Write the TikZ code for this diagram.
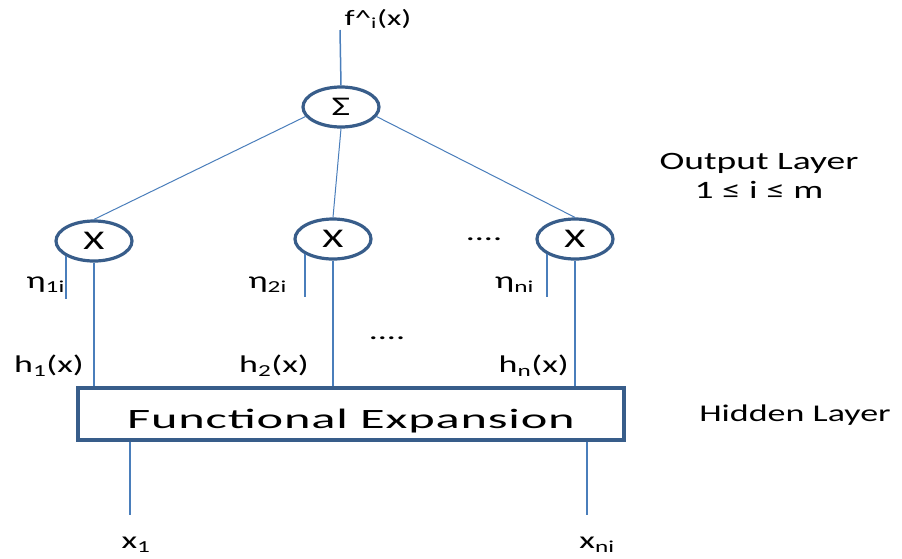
\documentclass[tikz,border=0pt]{standalone}
\usepackage{fontspec}
\setmainfont{Carlito}[FakeStretch=1.5]
\newfontfamily\widefont{Carlito}[FakeStretch=1.8, LetterSpace=3]
\usetikzlibrary{shapes.geometric}

\definecolor{rimblue}{RGB}{56,93,138}
\definecolor{wireblue}{RGB}{74,126,187}

\begin{document}
\begin{tikzpicture}[
    x=1pt, y=-1pt,
    unit node/.style={
        draw=rimblue, line width=3.2pt, ellipse, fill=white,
        minimum width=76pt, minimum height=40pt, inner sep=0pt,
        font=\fontsize{27}{30}\selectfont
    },
    expansion box/.style={
        draw=rimblue, line width=3.2pt, rectangle,
        minimum width=546pt, minimum height=52pt, inner sep=0pt,
        text height=28pt, text depth=0pt,
        font=\widefont\fontsize{28}{32}\selectfont
    },
    wire/.style={draw=wireblue, line width=1.5pt},
    link/.style={draw=wireblue, line width=1pt},
    lbl/.style={font=\fontsize{24}{28}\selectfont, inner sep=0pt},
    layer lbl/.style={font=\fontsize{25}{29}\selectfont, inner sep=0pt, align=center}
]

\useasboundingbox (0,0) rectangle (902,558);

% ------------------------------------------------------------------------------
% 1. NODOS
% ------------------------------------------------------------------------------
\node[unit node] (sum) at (341,107) {Σ};
\node[unit node] (prod1) at (94,241) {X};
\node[unit node] (prod2) at (333,239) {X};
\node[unit node] (prod3) at (575,239) {X};
\node[expansion box] (fe) at (351,414) {Functional Expansion};

% extremos libres
\coordinate (out) at (340,30);
\coordinate (in1) at (130,515);
\coordinate (inn) at (587,515);

% ------------------------------------------------------------------------------
% 2. CONEXIONES
% ------------------------------------------------------------------------------
\draw[wire] (sum.north) -- (out);
\draw[link] (sum.195) -- (prod1.north);
\draw[link] (sum.south) -- (prod2.north);
\draw[link] (sum.-15) -- (prod3.north);

\foreach \n in {prod1, prod2, prod3} {
    \draw[wire] (\n.209) -- ++(0,43);
    \draw[wire] (\n.south) -- (\n.south |- fe.north);
}

\draw[wire] (in1 |- fe.south) -- (in1);
\draw[wire] (inn |- fe.south) -- (inn);

% ------------------------------------------------------------------------------
% 3. ETIQUETAS
% ------------------------------------------------------------------------------
\node[lbl, font=\fontsize{22}{26}\selectfont] (fhat) at (378,19) {f\textasciicircum\textsubscript{i}(x)};

\node[lbl, anchor=east] (eta1) at (65,285) {η\textsubscript{1i}};
\node[lbl, anchor=east] (eta2) at (287,285) {η\textsubscript{2i}};
\node[lbl, anchor=east] (etan) at (534,285) {η\textsubscript{ni}};

\node[lbl, anchor=east] (h1) at (84,366) {h\textsubscript{1}(x)};
\node[lbl, anchor=east] (h2) at (309,366) {h\textsubscript{2}(x)};
\node[lbl, anchor=east] (hn) at (569,366) {h\textsubscript{n}(x)};

\node[lbl] (x1) at (136,545) {x\textsubscript{1}};
\node[lbl] (xn) at (597,545) {x\textsubscript{ni}};

\node[lbl] (dots1) at (484,239) {....};
\node[lbl] (dots2) at (387,338) {....};

\node[layer lbl] (outlayer) at (759,176) {Output Layer\\1 ≤ i ≤ m};
\node[layer lbl, font=\fontsize{24}{28}\selectfont] (hidlayer) at (795,415) {Hidden Layer};

\end{tikzpicture}
\end{document}
